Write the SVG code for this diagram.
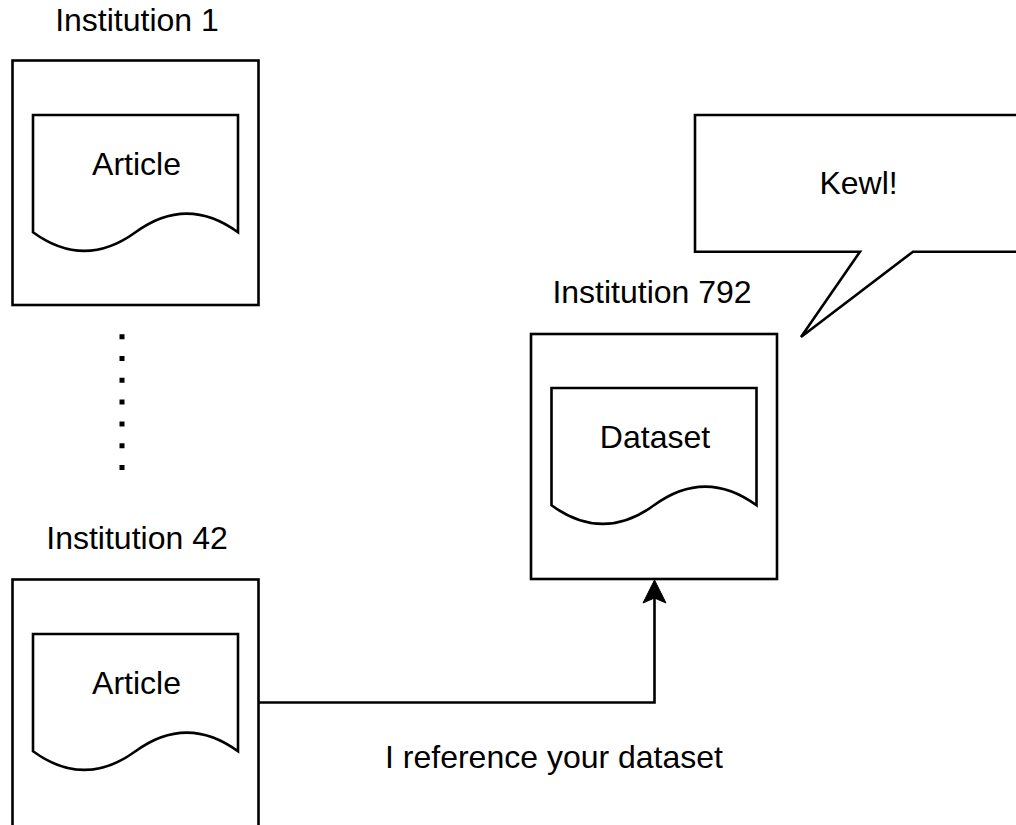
<svg xmlns="http://www.w3.org/2000/svg" width="1016" height="825" viewBox="0 0 1016 825">
  <style>
    .box { fill: #ffffff; stroke: #000000; stroke-width: 2.6; }
    .doc { fill: #ffffff; stroke: #000000; stroke-width: 2.6; stroke-linejoin: miter; }
    .lbl { font-family: "Liberation Sans", Arial, sans-serif; font-size: 32px; fill: #000000; text-anchor: middle; }
    .edge { fill: none; stroke: #000000; stroke-width: 2.6; }
  </style>
  <defs>
    <path id="docShape" d="M 0 0 L 205 0 L 205 117.3 Q 153.75 80 102.5 117.3 Q 51.25 154.6 0 117.3 Z"/>
  </defs>
  <rect width="1016" height="825" fill="#ffffff"/>

  <g id="institution-1">
    <text class="lbl" x="137" y="31">Institution 1</text>
    <rect class="box" x="12.5" y="60.5" width="246" height="244.5"/>
    <use href="#docShape" class="doc" x="33" y="115"/>
    <text class="lbl" x="136.5" y="175">Article</text>
  </g>

  <g id="institution-42">
    <text class="lbl" x="137" y="549">Institution 42</text>
    <rect class="box" x="12.5" y="579.5" width="246" height="260"/>
    <use href="#docShape" class="doc" x="33" y="634"/>
    <text class="lbl" x="136.5" y="694">Article</text>
  </g>

  <g id="institution-792">
    <text class="lbl" x="652" y="303">Institution 792</text>
    <rect class="box" x="531" y="334" width="246" height="245"/>
    <use href="#docShape" class="doc" x="551.5" y="388"/>
    <text class="lbl" x="655" y="448">Dataset</text>
  </g>

  <g id="callout-kewl">
    <path class="doc" d="M 695 115 L 1022 115 L 1022 251.7 L 913 251.7 L 801 337 L 860 251.7 L 695 251.7 Z"/>
    <text class="lbl" x="858.5" y="194">Kewl!</text>
  </g>

  <g id="connectors">
    <line x1="122" y1="334.2" x2="122" y2="470" stroke="#000000" stroke-width="5" stroke-dasharray="5 16.8"/>
    <path class="edge" d="M 258.5 702.5 L 654.5 702.5 L 654.5 598"/>
    <polygon points="654.5,580 666,603 654.5,598 643,603" fill="#000000" stroke="#000000" stroke-width="1"/>
    <text class="lbl" x="554" y="768">I reference your dataset</text>
  </g>
</svg>
